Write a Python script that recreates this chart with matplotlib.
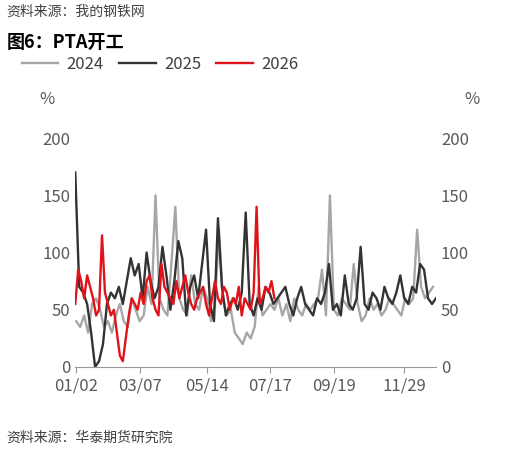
import matplotlib.pyplot as plt
import numpy as np

plt.rcParams['font.family'] = ['Noto Sans CJK SC', 'DejaVu Sans']

days_24 = list(range(2, 366, 4))
v24 = [40,35,45,30,55,60,50,35,40,30,45,55,40,35,60,50,40,45,70,55,150,60,50,45,90,140,60,50,45,80,55,50,70,60,40,55,120,60,45,50,30,25,20,30,25,35,70,45,50,55,50,60,45,55,40,60,50,45,55,50,55,60,85,45,150,50,45,60,55,50,90,55,40,45,60,50,55,45,50,60,55,50,45,60,55,60,120,70,60,65,70]
days_25 = list(range(1, 366, 4))
v25 = [170,70,65,55,30,0,5,20,55,65,60,70,55,75,95,80,90,60,100,75,60,70,105,80,50,75,110,95,45,70,80,60,90,120,55,40,130,70,45,55,60,50,65,135,55,45,60,50,70,65,55,60,65,70,55,45,60,70,55,50,45,60,55,65,90,50,55,45,80,55,50,60,105,55,50,65,60,50,70,60,55,65,80,60,55,70,65,90,85,60,55,60]
days_26 = list(range(1, 205, 3))
v26 = [55,85,75,60,80,70,60,45,50,115,65,55,45,50,30,10,5,25,45,60,55,50,65,55,75,80,60,50,45,90,70,65,60,55,75,60,70,80,65,55,50,60,65,70,55,45,60,75,60,55,70,65,50,60,55,70,45,60,55,50,65,140,55,60,70,65,75,60]

fig = plt.figure(figsize=(5.19, 4.53), dpi=100)
ax = fig.add_axes([0.145, 0.19, 0.695, 0.505])
ax.plot(days_24, v24[:len(days_24)], color='#a6a6a6', lw=1.7, label='2024')
ax.plot(days_25, v25[:len(days_25)], color='#333333', lw=1.7, label='2025')
ax.plot(days_26, v26[:len(days_26)], color='#e0131a', lw=1.7, label='2026')
ax.set_xlim(1, 365)
ax.set_ylim(0, 200)
ticks = [2, 66, 134, 198, 262, 333]
ax.set_xticks(ticks)
ax.set_xticklabels(['01/02','03/07','05/14','07/17','09/19','11/29'])
ax.set_yticks([0,50,100,150,200])
for s in ['top','right','left']:
    ax.spines[s].set_visible(False)
ax.spines['bottom'].set_color('#999999')
ax.tick_params(axis='both', colors='#595959', labelsize=12, length=0)
ax.tick_params(axis='x', length=4, colors='#999999', labelcolor='#595959')
ax2 = ax.twinx()
ax2.set_ylim(0, 200)
ax2.set_yticks([0,50,100,150,200])
for s in ['top','right','left','bottom']:
    ax2.spines[s].set_visible(False)
ax2.tick_params(colors='#595959', labelsize=12, length=0)
fig.text(0.075, 0.77, '%', fontsize=12, color='#595959')
fig.text(0.895, 0.77, '%', fontsize=12, color='#595959')
fig.text(0.012, 0.965, '资料来源：我的钢铁网', fontsize=10, style='italic', color='#404040')
fig.text(0.012, 0.895, '图6：PTA开工', fontsize=13, fontweight='bold', color='black')
ax.legend(loc='lower left', bbox_to_anchor=(-0.19, 1.22), ncol=3, frameon=False, fontsize=12,
          handlelength=2.2, handletextpad=0.5, columnspacing=0.9, labelcolor='#404040')
fig.text(0.012, 0.025, '资料来源：华泰期货研究院', fontsize=10, style='italic', color='#404040')
fig.savefig('out.png', dpi=100)
